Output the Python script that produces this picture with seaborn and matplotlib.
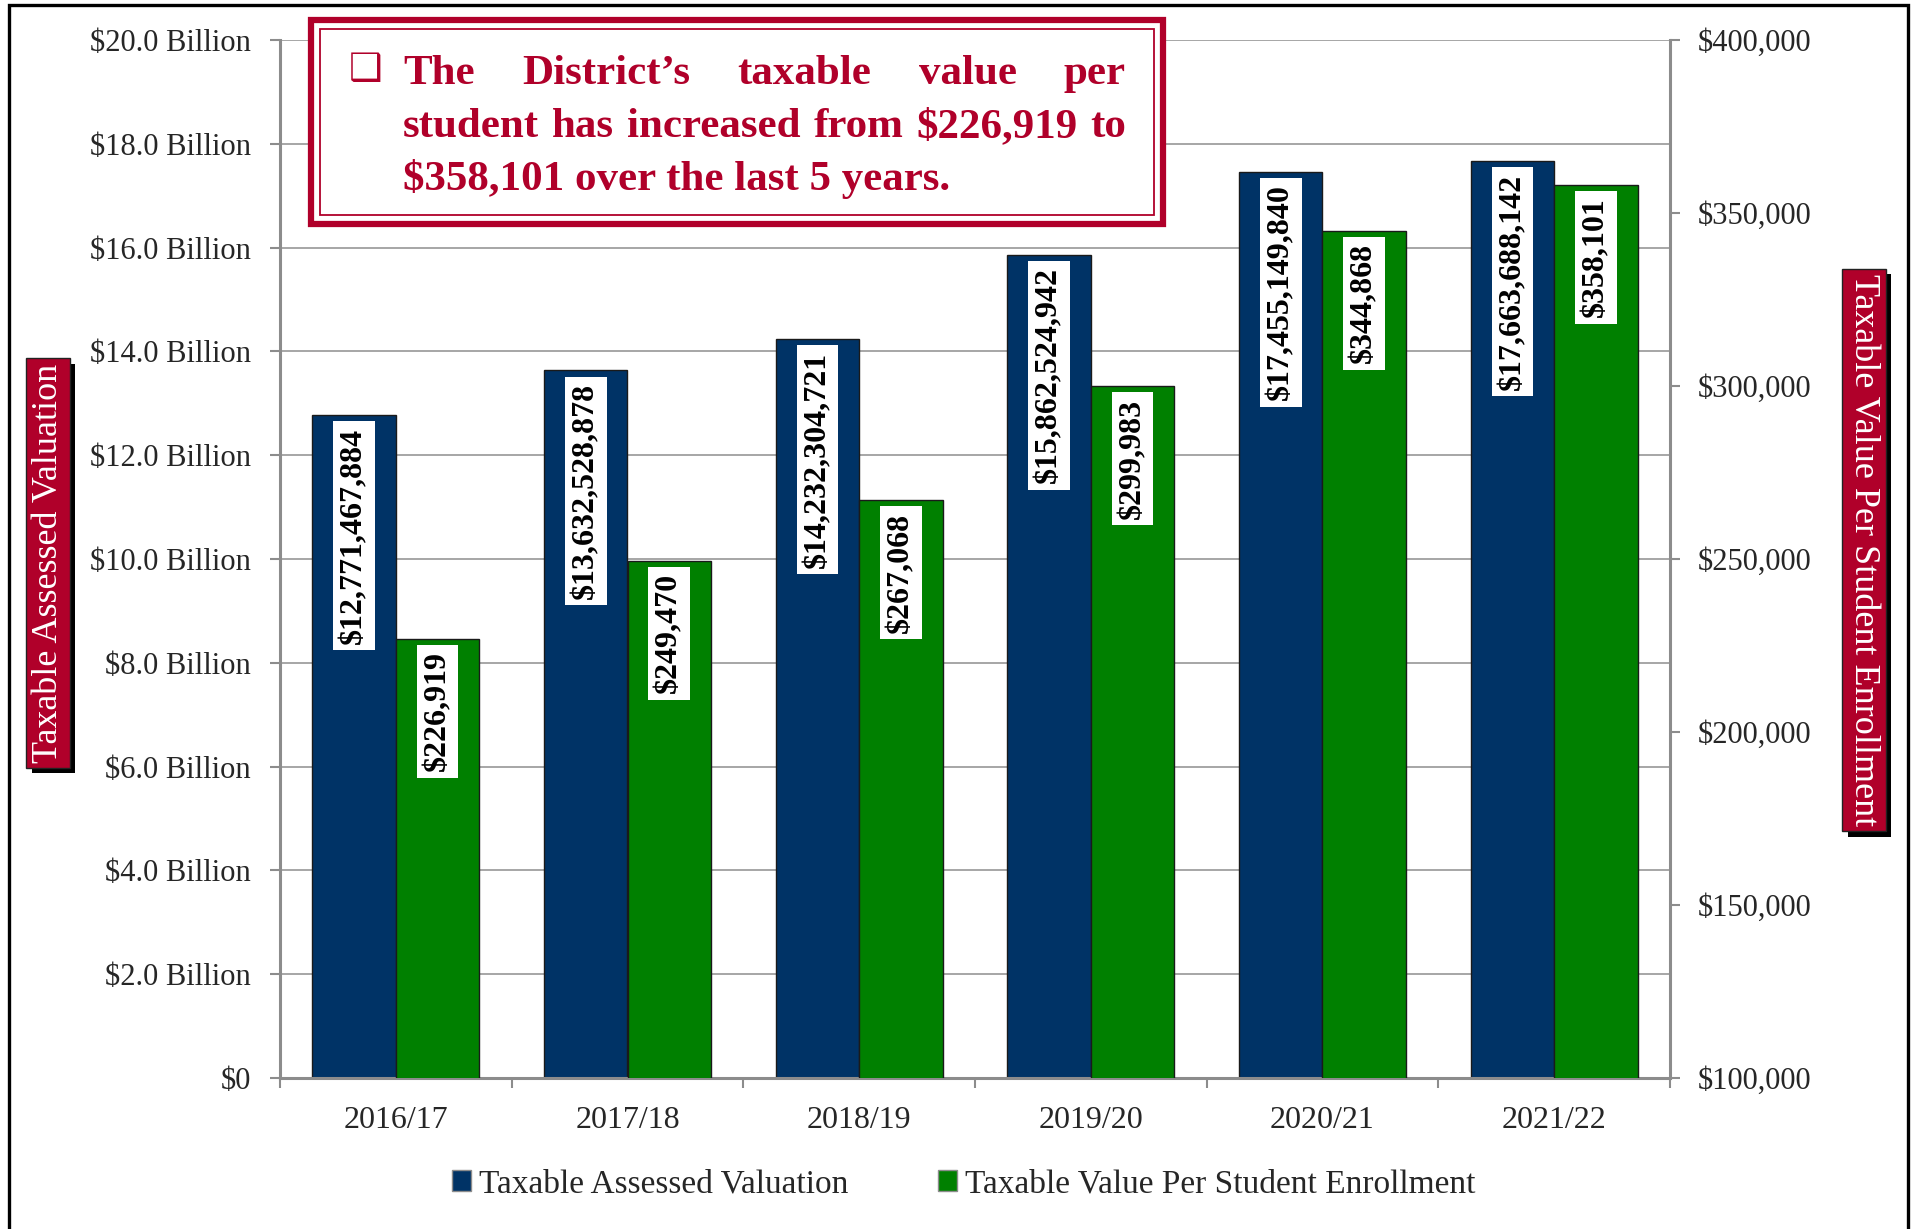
import numpy as np
import pandas as pd
import seaborn as sns
import matplotlib.pyplot as plt
import matplotlib.patheffects as pe
from matplotlib.patches import Rectangle, Patch

# ------------------------------------------------------------
# data
# ------------------------------------------------------------
years = ["2016/17", "2017/18", "2018/19", "2019/20", "2020/21", "2021/22"]
assessed = [12771467884, 13632528878, 14232304721, 15862524942, 17455149840, 17663688142]
per_student = [226919, 249470, 267068, 299983, 344868, 358101]

series_names = ["Taxable Assessed Valuation", "Taxable Value Per Student Enrollment"]
left_ticks = [0, 2e9, 4e9, 6e9, 8e9, 10e9, 12e9, 14e9, 16e9, 18e9, 20e9]
left_labels = ["$0"] + [f"${v / 1e9:.1f} Billion" for v in left_ticks[1:]]
right_ticks = [100000, 150000, 200000, 250000, 300000, 350000, 400000]
right_labels = [f"${v:,}" for v in right_ticks]

title_lines = [
    ["The", "District\u2019s", "taxable", "value", "per"],
    ["student", "has", "increased", "from", "$226,919", "to"],
    ["$358,101 over the last 5 years."],
]

blue = "#003366"
green = "#008000"
red = "#B0002A"
gray = "#8C8C8C"

sns.set_theme(style="white")
plt.rcParams["font.family"] = ["Liberation Serif", "DejaVu Serif"]

W, H = 1915, 1229
fig = plt.figure(figsize=(W / 100, H / 100), dpi=100)
ax = fig.add_axes([280 / W, 1 - 1078 / H, (1670 - 280) / W, (1078 - 40) / H])
ax2 = ax.twinx()

df_a = pd.DataFrame({"year": years, "value": assessed, "series": series_names[0]})
df_s = pd.DataFrame({"year": years, "value": per_student, "series": series_names[1]})

# blue bars on the left axis, green bars on the right axis, dodged side by side
for a, df in [(ax, df_a), (ax2, df_s)]:
    sns.barplot(data=df, x="year", y="value", hue="series", hue_order=series_names,
                palette=[blue, green], width=0.72, gap=0, dodge=True, saturation=1,
                errorbar=None, edgecolor="#1a1a1a", linewidth=1, legend=False, ax=a)

# axes limits / ticks
ax.set_xlim(-0.5, 5.5)
ax.set_ylim(0, 20e9)
ax2.set_ylim(100000, 400000)
ax.set_yticks(left_ticks)
ax.set_yticklabels(left_labels, fontsize=22)
ax2.set_yticks(right_ticks)
ax2.set_yticklabels(right_labels, fontsize=22)
ax.set_xticks(range(len(years)))
ax.set_xticklabels(years, fontsize=23)
ax.set_xticks(np.arange(-0.5, len(years), 1), minor=True)
ax.tick_params(axis="x", which="major", length=0, pad=20)
ax.tick_params(axis="x", which="minor", length=7, width=1.5, color=gray, bottom=True)
ax.tick_params(axis="y", length=7, width=1.5, color=gray, pad=14, left=True)
ax2.tick_params(axis="y", length=7, width=1.5, color=gray, pad=13, right=True)
for a in (ax, ax2):
    a.set_xlabel("")
    a.set_ylabel("")

ax.grid(axis="y", color="#A6A6A6", linewidth=1.4)
ax.set_axisbelow(True)
ax2.grid(False)

for name, sp in ax.spines.items():
    sp.set_visible(name in ("left", "bottom"))
    sp.set_color(gray)
    sp.set_linewidth(2.2)
for name, sp in ax2.spines.items():
    sp.set_visible(name == "right")
    sp.set_color(gray)
    sp.set_linewidth(2.2)

# value labels inside bars
def label_bars(a, vals):
    bars = [p for p in a.patches if p.get_height() > 0]
    for p, v in zip(bars, vals):
        a.annotate(f"${v:,.0f}", (p.get_x() + p.get_width() / 2, p.get_y() + p.get_height()),
                   xytext=(0, -9), textcoords="offset points", rotation=90,
                   ha="center", va="top", fontsize=23, fontweight="bold", color="black",
                   bbox=dict(boxstyle="square,pad=0.2", fc="white", ec="none"))

label_bars(ax, assessed)
label_bars(ax2, per_student)

# axis title boxes with drop shadow
shadow = [pe.SimplePatchShadow(offset=(4, -4), shadow_rgbFace="black", alpha=1), pe.Normal()]

def boxed_label(x, y, text, rot):
    ax.annotate(text, (x, y), xycoords="axes fraction", rotation=rot, ha="center",
                va="center", fontsize=26, color="white", zorder=5, annotation_clip=False,
                bbox=dict(boxstyle="square,pad=0.14", fc=red, ec="#222222", lw=1,
                          path_effects=shadow))

boxed_label((48 - 280) / 1390, (1078 - 563) / 1038, series_names[0], 90)
boxed_label((1864 - 280) / 1390, (1078 - 550) / 1038, series_names[1], -90)

# legend
handles = [Patch(facecolor=blue, edgecolor=gray), Patch(facecolor=green, edgecolor=gray)]
fig.legend(handles, series_names, loc="center", bbox_to_anchor=(964 / W, 1 - 1184 / H),
           ncol=2, frameon=False, fontsize=24, handlelength=0.55, handleheight=0.55,
           handletextpad=0.25, columnspacing=2.7)

# headline box
fig.add_artist(Rectangle((311 / W, 1 - 224 / H), (1163 - 311) / W, (224 - 20) / H,
                         transform=fig.transFigure, fc="white", ec=red, lw=4.5, zorder=3))
fig.add_artist(Rectangle((320 / W, 1 - 215 / H), (1154 - 320) / W, (215 - 29) / H,
                         transform=fig.transFigure, fc="none", ec=red, lw=1.3, zorder=3))
fig.text(366 / W, 1 - 70 / H, "\u2751", fontsize=27, fontweight="bold", color=red,
         ha="center", va="center", family=["DejaVu Sans"], zorder=4)

renderer = fig.canvas.get_renderer()
x0, x1 = 403, 1126
baselines = [84, 137, 190]
for words, yb in zip(title_lines, baselines):
    txts = [fig.text(0, 1 - yb / H, w, fontsize=31, fontweight="bold", color=red,
                     ha="left", va="baseline", zorder=4) for w in words]
    widths = [t.get_window_extent(renderer).width for t in txts]
    gap = (x1 - x0 - sum(widths)) / (len(words) - 1) if len(words) > 1 else 0
    x = x0
    for t, w in zip(txts, widths):
        t.set_x(x / W)
        x += w + gap

# outer frame
fig.add_artist(Rectangle((9 / W, -0.02), (1908 - 9) / W, (H - 5) / H + 0.02,
                         transform=fig.transFigure, fill=False, ec="black", lw=2.4, zorder=5))

fig.savefig("out.png", dpi=100)
